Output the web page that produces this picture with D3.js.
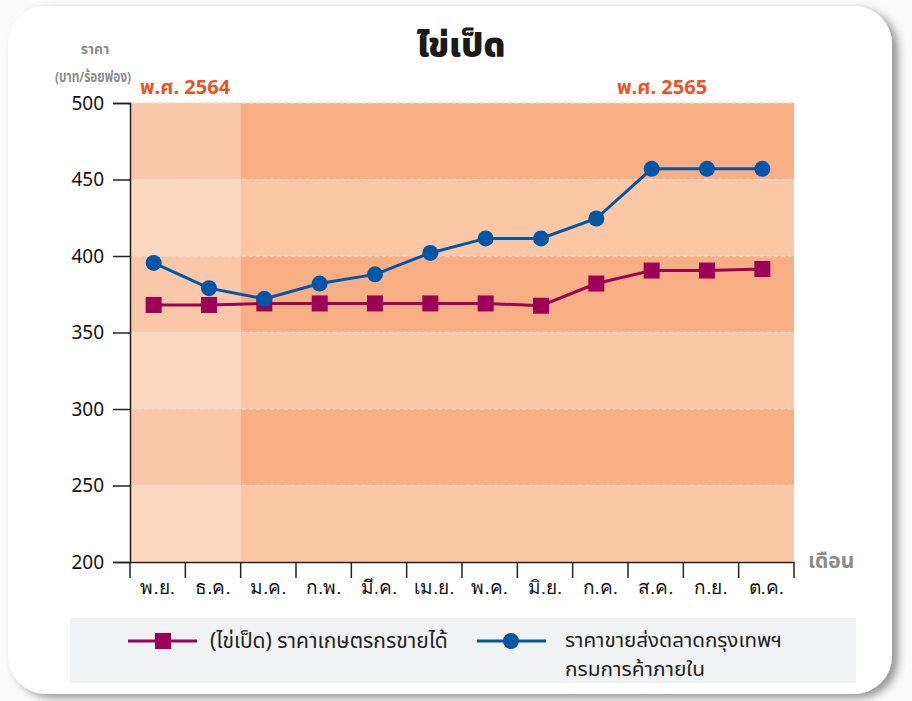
<!DOCTYPE html>
<html>
<head>
<meta charset="utf-8">
<script src="https://cdn.jsdelivr.net/npm/d3@7"></script>
<style>
  body { margin: 0; background: #fafafa; font-family: "Noto Sans Thai", "Noto Sans", "DejaVu Sans", sans-serif; }
</style>
</head>
<body>
<script>
const months = ["พ.ย.", "ธ.ค.", "ม.ค.", "ก.พ.", "มี.ค.", "เม.ย.", "พ.ค.", "มิ.ย.", "ก.ค.", "ส.ค.", "ก.ย.", "ต.ค."]
const farmPrice = [368, 368, 369, 369, 369, 369, 369, 367.5, 382, 390.5, 390.5, 391.5]
const wholesalePrice = [395.5, 379, 372, 382, 388, 402, 411.5, 411.5, 424.5, 457, 457, 457]
const yTicks = [200, 250, 300, 350, 400, 450, 500]
const seriesNames = ["(ไข่เป็ด) ราคาเกษตรกรขายได้", ["ราคาขายส่งตลาดกรุงเทพฯ", "กรมการค้าภายใน"]]

const W = 912, H = 701
const plot = { left: 130, right: 794, top: 103, bottom: 562 }

const svg = d3.select("body").append("svg")
    .attr("width", W)
    .attr("height", H)

// card with shadow
const defs = svg.append("defs")
const f = defs.append("filter").attr("id", "shadow").attr("x", "-5%").attr("y", "-5%").attr("width", "115%").attr("height", "115%")
f.append("feDropShadow").attr("dx", 6).attr("dy", 4).attr("stdDeviation", 4).attr("flood-color", "#000").attr("flood-opacity", 0.4)

svg.append("rect")
    .attr("x", 8).attr("y", 6)
    .attr("width", 884).attr("height", 688)
    .attr("rx", 38)
    .attr("fill", "#fff")
    .attr("filter", "url(#shadow)")

const x = d3.scaleBand().domain(months).range([plot.left, plot.right])
const y = d3.scaleLinear().domain([200, 500]).range([plot.bottom, plot.top])

// horizontal colour bands
const bands = d3.pairs(yTicks)
svg.append("g").selectAll("rect")
    .data(bands)
    .join("rect")
    .attr("x", plot.left)
    .attr("width", plot.right - plot.left)
    .attr("y", d => y(d[1]))
    .attr("height", d => y(d[0]) - y(d[1]))
    .attr("fill", (d, i) => i % 2 ? "#f9af84" : "#fbc7a4")

// lighter overlay for the 2564 months
svg.append("rect")
    .attr("x", x(months[0]))
    .attr("width", x.bandwidth() * 2)
    .attr("y", plot.top)
    .attr("height", plot.bottom - plot.top)
    .attr("fill", "#fff")
    .attr("opacity", 0.3)

// dashed gridlines
svg.append("g").selectAll("line")
    .data(yTicks.slice(1))
    .join("line")
    .attr("x1", plot.left).attr("x2", plot.right)
    .attr("y1", d => y(d)).attr("y2", d => y(d))
    .attr("stroke", "#e6dcd4")
    .attr("stroke-width", 1.5)
    .attr("stroke-dasharray", "4,3")

// y axis
const yAxis = svg.append("g")
    .attr("transform", `translate(${plot.left},0)`)
    .call(d3.axisLeft(y).tickValues(yTicks).tickSize(17).tickPadding(9))
yAxis.select(".domain").attr("stroke", "#222").attr("stroke-width", 1.5)
yAxis.selectAll(".tick line").attr("stroke", "#222").attr("stroke-width", 1.5)
yAxis.selectAll(".tick text")
    .attr("font-size", 19)
    .attr("fill", "#111")
    .attr("font-family", "Noto Sans, sans-serif")

// x axis
const xAxis = svg.append("g")
    .attr("transform", `translate(0,${plot.bottom})`)
    .call(d3.axisBottom(x).tickSize(0).tickPadding(16))
xAxis.select(".domain").attr("stroke", "#222").attr("stroke-width", 1.5)
xAxis.selectAll(".tick text")
    .attr("font-size", 19)
    .attr("fill", "#111")
    .attr("dy", "0.85em")
xAxis.selectAll(".sep")
    .data(d3.range(months.length + 1))
    .join("line")
    .attr("class", "sep")
    .attr("x1", i => plot.left + i * x.step())
    .attr("x2", i => plot.left + i * x.step())
    .attr("y1", 0).attr("y2", 16)
    .attr("stroke", "#222")
    .attr("stroke-width", 1.5)

// points sit a bit left of band centre in the original
const px = d => x(d) + x.bandwidth() / 2 - 4

const line = d3.line().x(d => px(d.m)).y(d => y(d.v))
const farm = months.map((m, i) => ({ m, v: farmPrice[i] }))
const whole = months.map((m, i) => ({ m, v: wholesalePrice[i] }))

svg.append("path")
    .datum(farm)
    .attr("d", line)
    .attr("fill", "none")
    .attr("stroke", "#9c0057")
    .attr("stroke-width", 3)
svg.append("g").selectAll("rect")
    .data(farm)
    .join("rect")
    .attr("x", d => px(d.m) - 8)
    .attr("y", d => y(d.v) - 8)
    .attr("width", 16).attr("height", 16)
    .attr("fill", "#9c0057")

svg.append("path")
    .datum(whole)
    .attr("d", line)
    .attr("fill", "none")
    .attr("stroke", "#0056a6")
    .attr("stroke-width", 3)
svg.append("g").selectAll("circle")
    .data(whole)
    .join("circle")
    .attr("cx", d => px(d.m))
    .attr("cy", d => y(d.v))
    .attr("r", 8)
    .attr("fill", "#0056a6")

// titles and labels
svg.append("text")
    .attr("x", 461).attr("y", 57)
    .attr("text-anchor", "middle")
    .attr("font-size", 34)
    .attr("font-weight", 900)
    .attr("fill", "#1a1a1a")
    .text("ไข่เป็ด")

svg.append("text")
    .attr("x", 95).attr("y", 54)
    .attr("text-anchor", "middle")
    .attr("font-size", 14)
    .attr("font-weight", "bold")
    .attr("fill", "#8c8c8c")
    .text("ราคา")
svg.append("text")
    .attr("x", 55).attr("y", 82)
    .attr("font-size", 15)
    .attr("font-weight", "bold")
    .attr("fill", "#8c8c8c")
    .attr("textLength", 76)
    .attr("lengthAdjust", "spacingAndGlyphs")
    .text("(บาท/ร้อยฟอง)")

svg.append("text")
    .attr("x", 140).attr("y", 94)
    .attr("font-size", 20)
    .attr("font-weight", "bold")
    .attr("fill", "#e85525")
    .text("พ.ศ. 2564")
svg.append("text")
    .attr("x", 617).attr("y", 94)
    .attr("font-size", 20)
    .attr("font-weight", "bold")
    .attr("fill", "#e85525")
    .text("พ.ศ. 2565")

svg.append("text")
    .attr("x", 808).attr("y", 568)
    .attr("font-size", 21)
    .attr("font-weight", "bold")
    .attr("fill", "#8c8c8c")
    .text("เดือน")

// legend
svg.append("rect")
    .attr("x", 70).attr("y", 618)
    .attr("width", 786).attr("height", 65)
    .attr("fill", "#f1f2f4")

const lg = svg.append("g")
lg.append("line").attr("x1", 128).attr("x2", 197).attr("y1", 641).attr("y2", 641)
    .attr("stroke", "#9c0057").attr("stroke-width", 3)
lg.append("rect").attr("x", 155).attr("y", 633).attr("width", 16).attr("height", 16).attr("fill", "#9c0057")
lg.append("text").attr("x", 210).attr("y", 648).attr("font-size", 21).attr("fill", "#222").text(seriesNames[0])

lg.append("line").attr("x1", 477).attr("x2", 546).attr("y1", 641).attr("y2", 641)
    .attr("stroke", "#0056a6").attr("stroke-width", 3)
lg.append("circle").attr("cx", 511).attr("cy", 641).attr("r", 8).attr("fill", "#0056a6")
lg.selectAll(".l2")
    .data(seriesNames[1])
    .join("text")
    .attr("class", "l2")
    .attr("x", 565)
    .attr("y", (d, i) => 647 + i * 29)
    .attr("font-size", 19)
    .attr("textLength", (d, i) => i ? 140 : 217)
    .attr("lengthAdjust", "spacingAndGlyphs")
    .attr("fill", "#222")
    .text(d => d)
</script>
</body>
</html>
